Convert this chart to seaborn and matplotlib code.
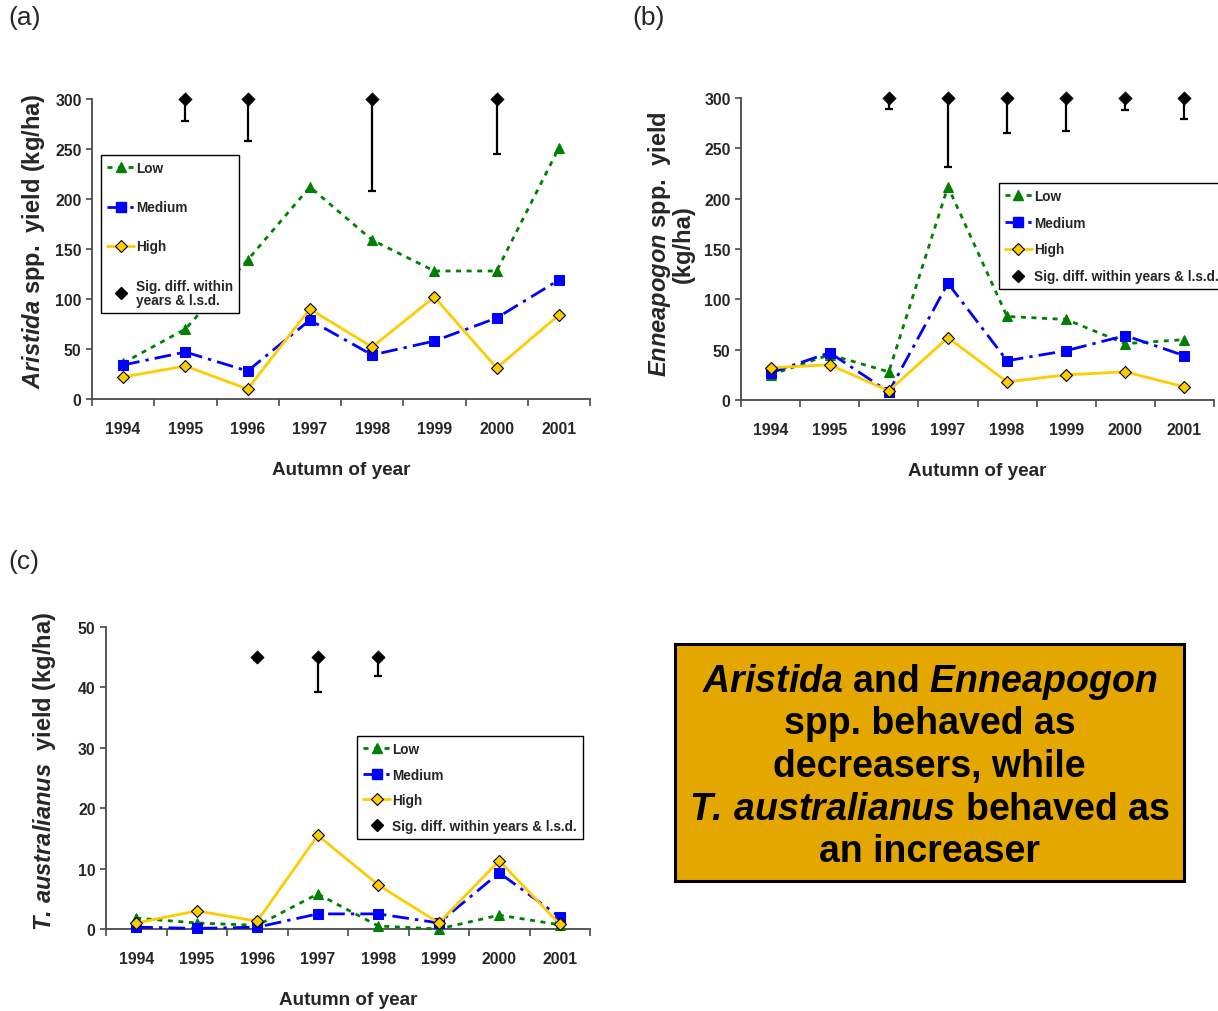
import numpy as np
import pandas as pd
import matplotlib
matplotlib.use("Agg")
import matplotlib.pyplot as plt
import matplotlib.font_manager as fm
import seaborn as sns
from matplotlib.lines import Line2D
from matplotlib.font_manager import FontProperties

# ---------------------------------------------------------------- data
YEARS = [1994, 1995, 1996, 1997, 1998, 1999, 2000, 2001]
YEAR_LABELS = ["1994", "1995", "1996", "1997", "1998", "1999", "2000", "2001"]

aristida_low = [36, 70, 139, 212, 159, 128, 128, 251]
aristida_med = [34, 47, 28, 79, 44, 58, 81, 119]
aristida_high = [22, 33, 10, 90, 52, 102, 31, 84]
aristida_sig_years = [1995, 1996, 1998, 2000]
aristida_lsd = [22, 42, 92, 55]

enneapogon_low = [25, 45, 28, 212, 83, 80, 56, 60]
enneapogon_med = [27, 47, 8, 116, 39, 49, 64, 44]
enneapogon_high = [32, 35, 9, 62, 18, 25, 28, 13]
enneapogon_sig_years = [1996, 1997, 1998, 1999, 2000, 2001]
enneapogon_lsd = [11, 69, 35, 33, 12, 21]

taus_low = [1.8, 1.0, 0.6, 5.8, 0.5, 0.0, 2.3, 0.7]
taus_med = [0.3, 0.1, 0.3, 2.5, 2.5, 1.0, 9.3, 2.0]
taus_high = [1.0, 3.0, 1.3, 15.5, 7.3, 1.0, 11.3, 0.8]
taus_sig_years = [1996, 1997, 1998]
taus_lsd = [0.4, 5.8, 3.1]

SERIES_NAMES = ["Low", "Medium", "High"]

# ---------------------------------------------------------------- style
sns.set_style("white")
plt.rcParams["font.family"] = ["Liberation Sans", "DejaVu Sans"]
plt.rcParams["mathtext.fontset"] = "custom"
plt.rcParams["mathtext.bfit"] = "Liberation Sans:italic:bold"
plt.rcParams["mathtext.it"] = "Liberation Sans:italic"
plt.rcParams["mathtext.rm"] = "Liberation Sans"
plt.rcParams["mathtext.bf"] = "Liberation Sans:bold"


def narrow_props(size):
    """Bold condensed sans for ticks, axis titles and legends."""
    names = {f.name for f in fm.fontManager.ttflist}
    if "Liberation Sans Narrow" in names:
        return FontProperties(family="Liberation Sans Narrow", weight="bold", size=size)
    cond = [f for f in fm.fontManager.ttflist
            if f.name == "Noto Sans" and f.stretch == "condensed"]
    if cond:
        return FontProperties(family="Noto Sans", weight="bold",
                              stretch="condensed", size=size)
    return FontProperties(family="Liberation Sans", weight="bold", size=size * 0.85)


tick_font = narrow_props(13.5)
xlabel_font = narrow_props(16)
legend_font = narrow_props(11.5)

AXIS_COLOR = "#4a4a4a"
GREEN = "#008000"
BLUE = "#0000FF"
GOLD = "#FFCC00"

STYLES = {
    "Low": dict(color=GREEN, marker="^", markersize=7.5, markeredgecolor=GREEN,
                markerfacecolor=GREEN, linestyle=(0, (1.8, 2.0)), linewidth=2.0),
    "Medium": dict(color=BLUE, marker="s", markersize=7.5, markeredgecolor=BLUE,
                   markerfacecolor=BLUE, linestyle=(0, (6, 2.2, 1.2, 2.2)), linewidth=2.0),
    "High": dict(color=GOLD, marker="D", markersize=6.5, markeredgecolor="black",
                 markeredgewidth=0.8, markerfacecolor=GOLD, linestyle="-", linewidth=2.0),
}

fig = plt.figure(figsize=(12.18, 10.12), dpi=100)
W, H = 1218.0, 1012.0


def px_axes(left, top, right, bottom):
    return fig.add_axes([left / W, 1 - bottom / H, (right - left) / W, (bottom - top) / H])


def draw_panel(ax, low, med, high, sig_years, sig_level, lsd, ymax, ystep,
               ylabel, ylabel_xy, sig_label, leg_anchor, leg_spacing):
    for name, vals in zip(SERIES_NAMES, [low, med, high]):
        df = pd.DataFrame({"year": YEARS, "yield": vals})
        sns.lineplot(data=df, x="year", y="yield", ax=ax, clip_on=False,
                     zorder=3, **STYLES[name])

    # significance markers with one-sided l.s.d. bars
    sig_df = pd.DataFrame({"year": sig_years, "level": [sig_level] * len(sig_years)})
    ax.errorbar(sig_df["year"], sig_df["level"],
                yerr=[lsd, np.zeros(len(lsd))], fmt="none", ecolor="black",
                elinewidth=1.6, capsize=3, capthick=1.6, zorder=4, clip_on=False)
    sns.scatterplot(data=sig_df, x="year", y="level", ax=ax, marker="D", s=45,
                    color="black", edgecolor="black", zorder=5, clip_on=False,
                    legend=False)

    ax.set_xlim(YEARS[0] - 0.5, YEARS[-1] + 0.5)
    ax.set_ylim(0, ymax)
    yt = np.arange(0, ymax + 0.1, ystep)
    ax.set_yticks(yt)
    ax.set_yticklabels([f"{v:g}" for v in yt], fontproperties=tick_font)
    # category boundaries carry the tick marks, labels sit at the centres
    ax.set_xticks(np.arange(YEARS[0] - 0.5, YEARS[-1] + 0.6, 1.0))
    ax.set_xticklabels([])
    ax.set_xticks(YEARS, minor=True)
    ax.set_xticklabels(YEAR_LABELS, minor=True, fontproperties=tick_font)
    ax.tick_params(axis="x", which="major", direction="out", length=5,
                   width=1.2, color=AXIS_COLOR, bottom=True)
    ax.tick_params(axis="x", which="minor", length=0, pad=16, bottom=True)
    ax.tick_params(axis="y", which="major", direction="out", length=4.5,
                   width=1.2, color=AXIS_COLOR, left=True, pad=3)

    for side in ["top", "right"]:
        ax.spines[side].set_visible(False)
    for side in ["left", "bottom"]:
        ax.spines[side].set_color(AXIS_COLOR)
        ax.spines[side].set_linewidth(1.3)

    ax.set_xlabel("Autumn of year", fontproperties=xlabel_font, labelpad=18)
    ax.set_ylabel(ylabel, fontsize=17, fontweight="bold", linespacing=0.95)
    ax.yaxis.set_label_coords(*ylabel_xy)
    ax.grid(False)

    handles = [Line2D([], [], **STYLES[n]) for n in SERIES_NAMES]
    handles.append(Line2D([], [], linestyle="none", marker="D", markersize=6,
                          color="black"))
    leg = ax.legend(handles, SERIES_NAMES + [sig_label], loc="upper left",
                    bbox_to_anchor=leg_anchor, borderaxespad=0, prop=legend_font,
                    frameon=True, fancybox=False, framealpha=1,
                    edgecolor="black", handlelength=2.0, handletextpad=0.15,
                    labelspacing=leg_spacing, borderpad=0.45)
    leg.get_frame().set_linewidth(1.0)
    for t in leg.get_texts():
        t.set_linespacing(1.0)
    return ax


ax_a = px_axes(92, 100, 590, 400)
draw_panel(ax_a, aristida_low, aristida_med, aristida_high,
           aristida_sig_years, 300, aristida_lsd, 300, 50,
           r"$\mathbfit{Aristida}$ spp.  yield (kg/ha)", (-0.09, 0.53),
           "Sig. diff. within\nyears & l.s.d.", (0.018, 0.813), 1.85)

ax_b = px_axes(741, 99, 1214, 401)
draw_panel(ax_b, enneapogon_low, enneapogon_med, enneapogon_high,
           enneapogon_sig_years, 300, enneapogon_lsd, 300, 50,
           "$\\mathbfit{Enneapogon}$ spp.  yield\n(kg/ha)", (-0.098, 0.52),
           "Sig. diff. within years & l.s.d.", (0.545, 0.72), 0.95)

ax_c = px_axes(106, 628, 590, 930)
draw_panel(ax_c, taus_low, taus_med, taus_high,
           taus_sig_years, 45, taus_lsd, 50, 10,
           r"$\mathbfit{T.\,australianus}$  yield (kg/ha)", (-0.1, 0.525),
           "Sig. diff. within years & l.s.d.", (0.519, 0.639), 0.85)

# panel letters
for label, (x, y) in {"(a)": (8, 18), "(b)": (632, 18), "(c)": (8, 562)}.items():
    fig.text(x / W, 1 - y / H, label, fontsize=19, ha="left", va="center")

# summary box
box = px_axes(675, 645, 1184, 882)
box.set_xlim(0, 1)
box.set_ylim(0, 1)
box.set_xticks([])
box.set_yticks([])
box.set_facecolor("#E3A700")
for s in box.spines.values():
    s.set_color("black")
    s.set_linewidth(2.2)
box_lines = [
    r"$\mathbfit{Aristida}$ and $\mathbfit{Enneapogon}$",
    "spp. behaved as",
    "decreasers, while",
    r"$\mathbfit{T.\,australianus}$ behaved as",
    "an increaser",
]
baselines = [0.802, 0.624, 0.443, 0.262, 0.084]
for line, yb in zip(box_lines, baselines):
    box.text(0.5, yb, line, ha="center", va="baseline", fontsize=27,
             fontweight="bold", color="black", transform=box.transAxes)

fig.savefig("out.png", dpi=100)
